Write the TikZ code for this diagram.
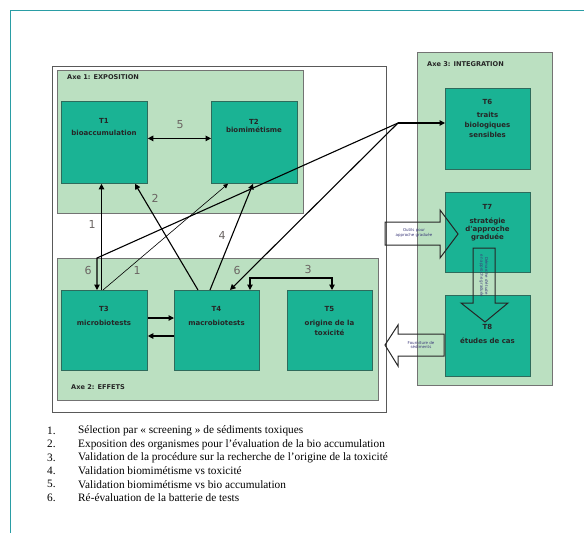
\documentclass[tikz,border=0pt]{standalone}
\usepackage{fontspec}
\setmainfont{Liberation Serif}
\newfontfamily\sansf{DejaVu Sans}
\usetikzlibrary{arrows.meta}
\definecolor{panel}{HTML}{BBE0C1}
\definecolor{boxfill}{HTML}{1AB394}
\definecolor{boxline}{HTML}{2E6B5C}
\definecolor{frameteal}{HTML}{2A9DA5}
\definecolor{numgray}{HTML}{6A6462}
\definecolor{arrtxt}{HTML}{3C3A7A}
\begin{document}
\begin{tikzpicture}[x=1pt,y=-1pt,
  panelsty/.style={draw=black!55, fill=panel, line width=0.8pt, inner sep=0pt, anchor=north west},
  outersty/.style={draw=black!65, fill=white, line width=1pt, inner sep=0pt, anchor=north west},
  tbox/.style={draw=boxline, fill=boxfill, line width=0.8pt, minimum width=86pt, minimum height=81pt, anchor=north west, inner sep=0pt},
  ttext/.style={font=\sansf\bfseries\fontsize{7}{8.5}\selectfont, align=center, anchor=north, inner sep=0pt, text=black!85},
  conn/.style={line width=1.1pt, -{Triangle[length=5.5pt,width=5.5pt]}},
  thinconn/.style={line width=0.6pt, -{Triangle[length=4.5pt,width=4.5pt]}},
  dconn/.style={line width=1.1pt, {Triangle[length=5.5pt,width=5.5pt]}-{Triangle[length=5.5pt,width=5.5pt]}},
  numlab/.style={font=\sansf\fontsize{11}{13}\selectfont, text=numgray, inner sep=0pt},
  axelab/.style={font=\sansf\bfseries\fontsize{6.6}{8}\selectfont, anchor=west, inner sep=0pt, text=black!85},
  blockarr/.style={draw=black!85, line width=1pt},
  arrtext/.style={font=\sansf\fontsize{4}{4.8}\selectfont, align=center, text=arrtxt, inner sep=0pt},
  legsty/.style={font=\fontsize{11.3}{13}\selectfont, anchor=west, inner sep=0pt}
]
\useasboundingbox (0,0) rectangle (584,533);
% page frame
\draw[frameteal, line width=0.9pt] (584,10) -- (10,10) -- (10,533);

% containers
\node[outersty, minimum width=334pt, minimum height=346pt] (outer) at (52,66) {};
\node[panelsty, minimum width=246pt, minimum height=143pt] (axe1) at (57,70) {};
\node[panelsty, minimum width=321pt, minimum height=142pt] (axe2) at (57,258) {};
\node[panelsty, minimum width=135pt, minimum height=333pt] (axe3) at (417,52) {};

\node[axelab] (axe1l) at (67,77) {Axe 1: EXPOSITION};
\node[axelab] (axe2l) at (71,387) {Axe 2: EFFETS};
\node[axelab] (axe3l) at (427,64) {Axe 3: INTEGRATION};

% boxes
\node[tbox, minimum height=82pt] (t1) at (61,101) {};
\node[tbox, minimum height=82pt] (t2) at (211,101) {};
\node[tbox, minimum height=80pt] (t3) at (61,290) {};
\node[tbox, minimum height=80pt, minimum width=85pt] (t4) at (174,290) {};
\node[tbox, minimum height=80pt, minimum width=85pt] (t5) at (287,290) {};
\node[tbox, minimum width=85pt] (t6) at (445,88) {};
\node[tbox, minimum width=85pt, minimum height=80pt] (t7) at (445,192) {};
\node[tbox, minimum width=85pt] (t8) at (445,295) {};

\node[ttext] (t1t) at (104,118) {T1\\[4pt]bioaccumulation};
\node[ttext] (t2t) at (254,119) {T2\\[0pt]biomimétisme};
\node[ttext] (t3t) at (104,306) {T3\\[6pt]microbiotests};
\node[ttext] (t4t) at (216.5,306) {T4\\[6pt]macrobiotests};
\node[ttext] (t5t) at (329.5,306) {T5\\[6pt]origine de la\\[1.5pt]toxicité};
\node[ttext] (t6t) at (487.5,99) {T6\\[5pt]traits\\[1.5pt]biologiques\\[1.5pt]sensibles};
\node[ttext] (t7t) at (487.5,204) {T7\\[6pt]stratégie\\[-0.5pt]d'approche\\[-0.5pt]graduée};
\node[ttext] (t8t) at (487.5,324) {T8\\[5.5pt]études de cas};

% connectors
\coordinate (j) at (398,123);
\coordinate (c6) at (97,258);
\draw[conn] (j) -- (j -| t6.west);
\draw[conn] (j) -- (c6) -- ([xshift=36pt]t3.north west);
\draw[conn] (j) -- ([xshift=56pt]t4.north west);
\draw[conn] ([xshift=40.5pt]t3.north west) -- ([xshift=40.5pt]t1.south west);
\draw[thinconn] ([xshift=42pt]t3.north west) -- ([xshift=17pt]t2.south west);
\draw[conn] ([xshift=24pt]t4.north west) -- ([xshift=74pt]t1.south west);
\draw[conn] ([xshift=36pt]t4.north west) -- ([xshift=42pt]t2.south west);
\draw[dconn] ([yshift=4pt]t1.east) -- ([yshift=4pt]t2.west);
\draw[conn] ([yshift=-28pt]t3.north east) -- ([yshift=-28pt]t4.north west);
\draw[conn] ([yshift=-46pt]t4.north west) -- ([yshift=-46pt]t3.north east);
\draw[dconn] ([xshift=76pt]t4.north west) -- ++(0,-12) -| ([xshift=45pt]t5.north west);

% number labels
\node[numlab] (n5) at (180,125) {5};
\node[numlab] (n2) at (155,198) {2};
\node[numlab] (n1a) at (92,224) {1};
\node[numlab] (n4) at (222,235) {4};
\node[numlab] (n6a) at (88,270) {6};
\node[numlab] (n1b) at (137,270) {1};
\node[numlab] (n6b) at (237,270) {6};
\node[numlab] (n3) at (308,269) {3};

% block arrows
\draw[blockarr] (385,222) -- (440,222) -- (440,210) -- (458,234) -- (440,258) -- (440,245) -- (385,245) -- cycle;
\node[arrtext] (a1t) at (414,233) {Outils pour\\approche graduée};
\draw[blockarr] (473,248) -- (495,248) -- (495,303) -- (508,303) -- (485,322) -- (461,303) -- (473,303) -- cycle;
\node[arrtext, rotate=-90] (a2t) at (484,276) {Démarche d'étude\\en approche graduée};
\draw[blockarr] (444,334) -- (398,334) -- (398,325) -- (385,345) -- (398,366) -- (398,356) -- (444,356) -- cycle;
\node[arrtext] (a3t) at (421,345) {Fourniture de\\sédiments};

% legend
\foreach \i/\t [count=\k from 0] in {1/{Sélection par «~screening~» de sédiments toxiques},
  2/{Exposition des organismes pour l'évaluation de la bio accumulation},
  3/{Validation de la procédure sur la recherche de l'origine de la toxicité},
  4/{Validation biomimétisme vs toxicité},
  5/{Validation biomimétisme vs bio accumulation},
  6/{Ré-évaluation de la batterie de tests}}{
  \node[legsty] (ln\i) at (47,{431+13.3*\k}) {\i.};
  \node[legsty] (lt\i) at (78,{431+13.3*\k}) {\t};
}
\end{tikzpicture}
\end{document}
